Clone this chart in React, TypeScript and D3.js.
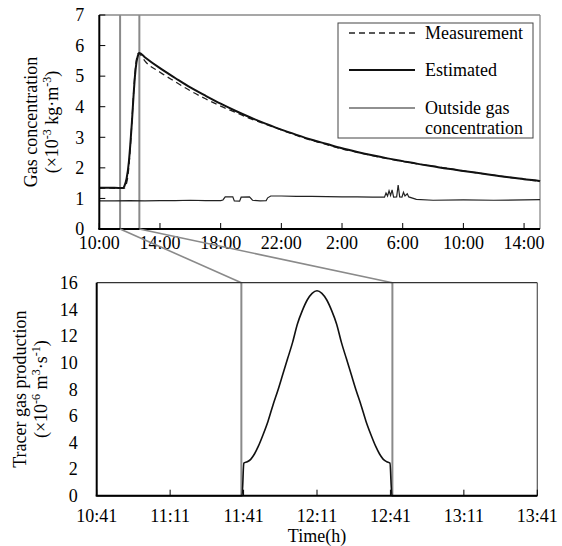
import React from 'react';
import * as d3 from 'd3';

// ---------- Top chart data (hours after 10:00) ----------
const topTickHours = [0, 4, 8, 12, 16, 20, 24, 28];
const topYTicks = [0, 1, 2, 3, 4, 5, 6, 7];
const zoomWindowHours = [1.37, 2.64];

const estHours = [0, 0.5, 1, 1.55, 1.65, 1.8, 1.95, 2.05, 2.15, 2.25, 2.35, 2.45, 2.55, 2.65,
  3, 4, 5, 6, 7, 8, 9, 10, 11, 12, 13, 14, 15, 16, 17, 18, 19, 20, 21, 22, 23, 24, 25, 26, 27, 28, 29, 29.05];
const estValues = [1.35, 1.35, 1.35, 1.34, 1.4, 1.65, 2.2, 2.8, 3.5, 4.3, 5.0, 5.45, 5.68, 5.76,
  5.62, 5.26, 4.94, 4.63, 4.36, 4.1, 3.86, 3.64, 3.44, 3.25, 3.08, 2.92, 2.78, 2.64, 2.52, 2.41, 2.31, 2.22, 2.13, 2.05, 1.97, 1.9, 1.83, 1.76, 1.69, 1.63, 1.57, 1.56];

const measHours = [0, 0.5, 1, 1.62, 1.75, 1.9, 2.0, 2.1, 2.2, 2.3, 2.4, 2.5, 2.6, 2.68,
  3, 4, 5, 6, 7, 8, 9, 10, 11, 12, 13, 14, 15, 16, 17, 18, 19, 20, 21, 22, 23, 24, 25, 26, 27, 28, 29, 29.05];
const measValues = [1.33, 1.34, 1.33, 1.33, 1.42, 1.8, 2.35, 3.1, 3.95, 4.75, 5.35, 5.68, 5.76, 5.72,
  5.5, 5.13, 4.82, 4.52, 4.26, 4.02, 3.81, 3.6, 3.42, 3.24, 3.06, 2.9, 2.76, 2.62, 2.51, 2.4, 2.3, 2.21, 2.13, 2.05, 1.98, 1.9, 1.83, 1.76, 1.69, 1.63, 1.57, 1.57];

const outHours = [0, 1, 2, 3, 4, 5, 6, 7, 8, 8.15, 8.3, 8.8, 8.9, 9.25, 9.35, 9.9, 10.1, 10.6, 11.0, 11.1, 11.3,
  12, 13, 14, 15, 16, 17, 18, 18.8, 18.9, 19.0, 19.1, 19.2, 19.3, 19.4, 19.6, 19.7, 19.8, 19.95, 20.05, 20.15, 20.3, 20.4,
  20.9, 22, 24, 26, 28, 29.05];
const outValues = [0.92, 0.92, 0.93, 0.92, 0.93, 0.93, 0.94, 0.93, 0.93, 0.95, 1.05, 1.05, 0.92, 0.91, 1.04, 1.05, 0.94, 0.92, 0.93, 1.02, 1.08,
  1.08, 1.07, 1.07, 1.06, 1.05, 1.05, 1.04, 1.04, 1.18, 1.08, 1.25, 1.1, 1.28, 1.04, 1.05, 1.44, 1.05, 1.04, 1.2, 1.08, 1.15, 1.05,
  0.97, 0.94, 0.95, 0.94, 0.95, 0.96];

// ---------- Bottom chart data (minutes after 10:41) ----------
const bottomTickMinutes = [0, 30, 60, 90, 120, 150, 180];
const bottomYTicks = [0, 2, 4, 6, 8, 10, 12, 14, 16];
const productionWindowMinutes = [59.1, 120.8];

const prodMinutes = [0, 59.4, 60.1, 61.5, 63, 64.5, 66, 68, 70, 72, 74, 76, 78, 80, 82, 84, 86, 88, 90,
  92, 94, 96, 98, 100, 102, 104, 106, 108, 110, 112, 114, 115.5, 117, 118.5, 119.8, 120.6, 180];
const prodValues = [0, 0, 2.45, 2.55, 2.75, 3.15, 3.7, 4.6, 5.6, 6.8, 7.9, 9.1, 10.3, 11.5, 12.9, 13.9, 14.7, 15.2, 15.4,
  15.2, 14.7, 13.9, 12.9, 11.5, 10.3, 9.1, 7.9, 6.8, 5.6, 4.6, 3.7, 3.15, 2.75, 2.55, 2.45, 0, 0];

const T0 = Date.UTC(2000, 0, 1, 10, 0);
const B0 = Date.UTC(2000, 0, 1, 10, 41);
const hDate = (h: number) => new Date(T0 + h * 3600e3);
const mDate = (m: number) => new Date(B0 + m * 60e3);

const FONT = '"Liberation Serif", "Times New Roman", serif';
const GREY = '#8a8a8a';

export default function App() {
  const xT = d3.scaleUtc().domain([hDate(0), hDate(29.05)]).range([99.3, 540]);
  const yT = d3.scaleLinear().domain([0, 7]).range([229, 15]);
  const xB = d3.scaleUtc().domain([mDate(0), mDate(180)]).range([96.7, 537.3]);
  const yB = d3.scaleLinear().domain([0, 16]).range([495.7, 282.7]);

  const fmtT = d3.utcFormat('%-H:%M');
  const fmtB = d3.utcFormat('%H:%M');

  const lineT = d3.line<[number, number]>()
    .x(d => xT(hDate(d[0])))
    .y(d => yT(d[1]));
  const smoothT = d3.line<[number, number]>()
    .x(d => xT(hDate(d[0])))
    .y(d => yT(d[1]))
    .curve(d3.curveMonotoneX);
  const lineB = d3.line<[number, number]>()
    .x(d => xB(mDate(d[0])))
    .y(d => yB(d[1]))
    .curve(d3.curveMonotoneX);

  const est = estHours.map((h, i) => [h, estValues[i]] as [number, number]);
  const meas = measHours.map((h, i) => [h, measValues[i]] as [number, number]);
  const out = outHours.map((h, i) => [h, outValues[i]] as [number, number]);
  const prod = prodMinutes.map((m, i) => [m, prodValues[i]] as [number, number]);

  const [tL, tR] = xT.range();
  const [tB, tTop] = yT.range();
  const [bL, bR] = xB.range();
  const [bB, bTop] = yB.range();

  const zx0 = xT(hDate(zoomWindowHours[0]));
  const zx1 = xT(hDate(zoomWindowHours[1]));
  const px0 = xB(mDate(productionWindowMinutes[0]));
  const px1 = xB(mDate(productionWindowMinutes[1]));

  return (
    <svg width={562} height={546} style={{ position: 'absolute', left: 0, top: 0, background: '#fff' }}
      fontFamily={FONT} fontSize={18}>
      <rect x={0} y={0} width={562} height={546} fill="#fff" />

      {/* ===== Top chart ===== */}
      {[zx0, zx1].map((x, i) => (
        <line key={'zw' + i} x1={x} x2={x} y1={tTop} y2={tB} stroke={GREY} strokeWidth={2} />
      ))}
      <line x1={tL} x2={tR} y1={tTop} y2={tTop} stroke={GREY} strokeWidth={1.3} />
      <line x1={tR} x2={tR} y1={tTop} y2={tB} stroke={GREY} strokeWidth={1.3} />

      <path d={lineT(out) || ''} fill="none" stroke="#222" strokeWidth={1.2} />
      <path d={smoothT(meas) || ''} fill="none" stroke="#222" strokeWidth={1.3} strokeDasharray="6,4" />
      <path d={smoothT(est) || ''} fill="none" stroke="#111" strokeWidth={2} />

      <line x1={tL} x2={tL} y1={tTop} y2={tB} stroke="#000" strokeWidth={2} />
      <line x1={tL - 1} x2={tR} y1={tB} y2={tB} stroke="#000" strokeWidth={2} />
      {topYTicks.map(v => (
        <g key={'ty' + v}>
          <line x1={tL} x2={tL + 6} y1={yT(v)} y2={yT(v)} stroke="#000" strokeWidth={1} />
          <text x={tL - 15} y={yT(v)} dy="0.35em" textAnchor="end">{v}</text>
        </g>
      ))}
      {topTickHours.map(h => (
        <g key={'tx' + h}>
          <line x1={xT(hDate(h))} x2={xT(hDate(h))} y1={tB} y2={tB - 6} stroke="#000" strokeWidth={1} />
          <text x={xT(hDate(h))} y={249} textAnchor="middle">{fmtT(hDate(h))}</text>
        </g>
      ))}
      <text transform={`translate(37,${(tTop + tB) / 2}) rotate(-90)`} textAnchor="middle">Gas concentration</text>
      <text transform={`translate(58,${(tTop + tB) / 2}) rotate(-90)`} textAnchor="middle">
        (×10<tspan dy={-7} fontSize={12}>-3</tspan><tspan dy={7}> kg</tspan>
        <tspan>·</tspan>m<tspan dy={-7} fontSize={12}>-3</tspan><tspan dy={7}>)</tspan>
      </text>

      <rect x={338} y={23} width={195} height={115} fill="#fff" stroke="#444" strokeWidth={1} />
      <line x1={349} x2={415} y1={33} y2={33} stroke="#222" strokeWidth={1.3} strokeDasharray="6,4" />
      <text x={425} y={39}>Measurement</text>
      <line x1={349} x2={415} y1={70} y2={70} stroke="#111" strokeWidth={2} />
      <text x={425} y={76}>Estimated</text>
      <line x1={349} x2={415} y1={108} y2={108} stroke="#222" strokeWidth={1.2} />
      <text x={425} y={114}>Outside gas</text>
      <text x={425} y={134}>concentration</text>

      <line x1={zx0} y1={tB} x2={px0} y2={bTop} stroke={GREY} strokeWidth={1.6} />
      <line x1={zx1} y1={tB} x2={px1} y2={bTop} stroke={GREY} strokeWidth={1.6} />

      {/* ===== Bottom chart ===== */}
      {[px0, px1].map((x, i) => (
        <line key={'pw' + i} x1={x} x2={x} y1={bTop} y2={bB} stroke={GREY} strokeWidth={2} />
      ))}
      <line x1={bL} x2={bR} y1={bTop} y2={bTop} stroke="#333" strokeWidth={1.3} />
      <line x1={bR} x2={bR} y1={bTop} y2={bB} stroke="#555" strokeWidth={1.2} />
      <path d={lineB(prod) || ''} fill="none" stroke="#111" strokeWidth={1.6} />
      <line x1={bL} x2={bL} y1={bTop} y2={bB} stroke="#000" strokeWidth={2} />
      <line x1={bL - 1} x2={bR} y1={bB} y2={bB} stroke="#000" strokeWidth={2} />
      {bottomYTicks.map(v => (
        <text key={'by' + v} x={bL - 19} y={yB(v)} dy="0.35em" textAnchor="end">{v}</text>
      ))}
      {bottomTickMinutes.map(m => (
        <g key={'bx' + m}>
          <line x1={xB(mDate(m))} x2={xB(mDate(m))} y1={bB} y2={bB - 6} stroke="#000" strokeWidth={1} />
          <text x={xB(mDate(m))} y={522} textAnchor="middle">{fmtB(mDate(m))}</text>
        </g>
      ))}
      <text x={(bL + bR) / 2} y={542} textAnchor="middle">Time(h)</text>
      <text transform={`translate(26,${(bTop + bB) / 2}) rotate(-90)`} textAnchor="middle">Tracer gas production</text>
      <text transform={`translate(47,${(bTop + bB) / 2}) rotate(-90)`} textAnchor="middle">
        (×10<tspan dy={-7} fontSize={12}>-6</tspan><tspan dy={7}> m</tspan><tspan dy={-7} fontSize={12}>3</tspan>
        <tspan dy={7}>·</tspan>s<tspan dy={-7} fontSize={12}>-1</tspan><tspan dy={7}>)</tspan>
      </text>
    </svg>
  );
}
